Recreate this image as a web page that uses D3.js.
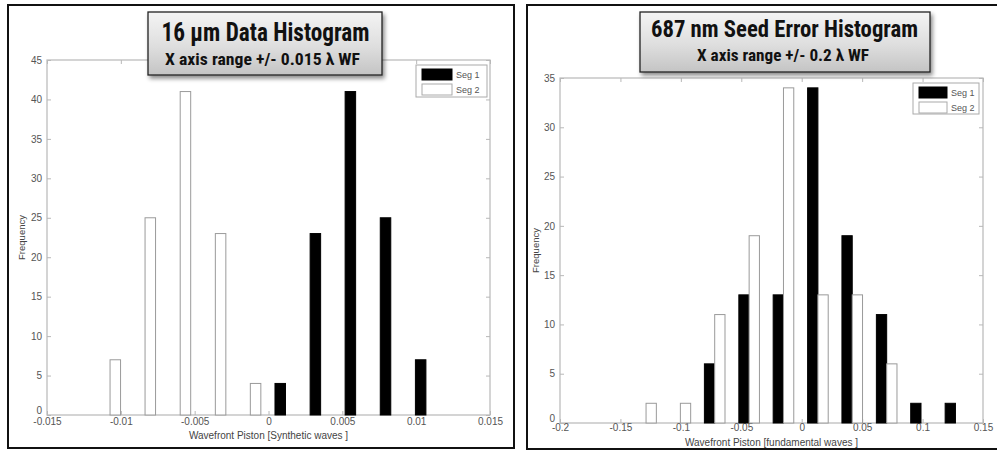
<!DOCTYPE html>
<html><head><meta charset="utf-8">
<script src="https://cdn.jsdelivr.net/npm/d3@7"></script>
<style>
body{margin:0;background:#fff;}
svg{display:block;}
</style></head>
<body>
<svg id="c" width="997" height="450"></svg>
<script>
// ---- Data ----
const leftBins = [-0.01073, -0.00836, -0.00598, -0.00360, -0.00123, 0.00115, 0.00353, 0.00590, 0.00828, 0.01066];
const leftSeg1 = [0, 0, 0, 0, 0, 4, 23, 41, 25, 7];
const leftSeg2 = [7, 25, 41, 23, 4, 0, 0, 0, 0, 0];
const leftXTicks = [-0.015, -0.01, -0.005, 0, 0.005, 0.01, 0.015];
const leftXTickLabels = ["-0.015", "-0.01", "-0.005", "0", "0.005", "0.01", "0.015"];
const leftYTicks = [0, 5, 10, 15, 20, 25, 30, 35, 40, 45];

const rightBins = [-0.1288, -0.1004, -0.0720, -0.0435, -0.0151, 0.0134, 0.0418, 0.0703, 0.0987, 0.1272];
const rightSeg1 = [0, 0, 6, 13, 13, 34, 19, 11, 2, 2];
const rightSeg2 = [2, 2, 11, 19, 34, 13, 13, 6, 0, 0];
const rightXTicks = [-0.2, -0.15, -0.1, -0.05, 0, 0.05, 0.1, 0.15];
const rightXTickLabels = ["-0.2", "-0.15", "-0.1", "-0.05", "0", "0.05", "0.1", "0.15"];
const rightYTicks = [0, 5, 10, 15, 20, 25, 30, 35];

const seriesNames = ["Seg 1", "Seg 2"];

const svg = d3.select("#c");
const defs = svg.append("defs");
const grad = defs.append("linearGradient").attr("id","tg").attr("x1","0").attr("y1","0").attr("x2","0").attr("y2","1");
grad.append("stop").attr("offset","0%").attr("stop-color","#f4f4f4");
grad.append("stop").attr("offset","55%").attr("stop-color","#dedede");
grad.append("stop").attr("offset","100%").attr("stop-color","#c4c4c4");
const filt = defs.append("filter").attr("id","sh").attr("x","-10%").attr("y","-10%").attr("width","125%").attr("height","135%");
filt.append("feDropShadow").attr("dx",2).attr("dy",3).attr("stdDeviation",2).attr("flood-color","#000").attr("flood-opacity",0.45);

const narrow = "'Liberation Sans Narrow','Arial Narrow','Roboto Condensed','Liberation Sans',Arial,sans-serif";
const tickFont = "'Liberation Sans',Arial,sans-serif";

function panel(cfg){
  const g = svg.append("g");
  g.append("rect").attr("x",cfg.border[0]).attr("y",cfg.border[1]).attr("width",cfg.border[2]).attr("height",cfg.border[3])
    .attr("fill","#fff").attr("stroke","#111").attr("stroke-width",2);

  const x = d3.scaleLinear().domain(cfg.xDomain).range([cfg.plot.l, cfg.plot.r]);
  const y = d3.scaleLinear().domain(cfg.yDomain).range([cfg.plot.b, cfg.plot.t]);

  const gridColor = "#b8b8b8";
  g.append("rect").attr("x",cfg.plot.l).attr("y",cfg.plot.t).attr("width",cfg.plot.r-cfg.plot.l).attr("height",cfg.plot.b-cfg.plot.t)
    .attr("fill","none").attr("stroke",gridColor).attr("stroke-width",1.2);

  const xb = g.append("g").attr("transform",`translate(0,${cfg.plot.b})`)
    .call(d3.axisBottom(x).tickValues(cfg.xTicks).tickSize(-4).tickPadding(cfg.xPad).tickFormat((d,i)=>cfg.xLabels[i]));
  const xt = g.append("g").attr("transform",`translate(0,${cfg.plot.t})`)
    .call(d3.axisTop(x).tickValues(cfg.xTicks).tickSize(-4).tickFormat(""));
  const yl = g.append("g").attr("transform",`translate(${cfg.plot.l},0)`)
    .call(d3.axisLeft(y).tickValues(cfg.yTicks).tickSize(-4).tickPadding(5));
  const yr = g.append("g").attr("transform",`translate(${cfg.plot.r},0)`)
    .call(d3.axisRight(y).tickValues(cfg.yTicks).tickSize(-4).tickFormat(""));
  [xb,xt,yl,yr].forEach(a=>{
    a.select(".domain").remove();
    a.selectAll(".tick line").attr("stroke",gridColor);
    a.selectAll("text").attr("fill","#555").style("font-family",tickFont).style("font-size","10px");
  });
  yl.selectAll(".tick text").attr("dy","0.32em");
  yl.selectAll(".tick text").filter(d=>d===0).attr("dy","-0.15em");

  const spacing = cfg.bins[1]-cfg.bins[0];
  const bw = spacing*0.3, off = spacing*0.15;
  const bars = g.append("g");
  const mk = (vals, dx, fill, stroke) => {
    bars.selectAll(null).data(cfg.bins.map((c,i)=>({c, v: vals[i]})).filter(d=>d.v>0)).join("rect")
      .attr("x", d=>x(d.c+dx-bw/2)).attr("width", d=>x(d.c+dx+bw/2)-x(d.c+dx-bw/2))
      .attr("y", d=>y(d.v)).attr("height", d=>y(0)-y(d.v))
      .attr("fill", fill).attr("stroke", stroke).attr("stroke-width",1);
  };
  mk(cfg.seg1, -off, "#000", "#000");
  mk(cfg.seg2, off, "#fff", "#9a9a9a");

  g.append("text").attr("x",(cfg.plot.l+cfg.plot.r)/2).attr("y",cfg.xTitleY).attr("text-anchor","middle")
    .attr("fill","#444").style("font-family",tickFont).style("font-size","10px").text(cfg.xTitle);
  g.append("text").attr("transform",`translate(${cfg.yTitleX},${(cfg.plot.t+cfg.plot.b)/2}) rotate(-90)`).attr("text-anchor","middle")
    .attr("fill","#444").style("font-family",tickFont).style("font-size","9.5px").text("Frequency");

  const L = cfg.legend;
  g.append("rect").attr("x",L.x).attr("y",L.y).attr("width",L.w).attr("height",L.h).attr("fill","#fff").attr("stroke","#aaa").attr("stroke-width",1);
  seriesNames.forEach((n,i)=>{
    const yy = L.y + 4 + i*L.row;
    g.append("rect").attr("x",L.x+6).attr("y",yy).attr("width",L.sw).attr("height",L.row-4)
      .attr("fill", i===0?"#000":"#fff").attr("stroke", i===0?"#000":"#aaa");
    g.append("text").attr("x",L.x+L.sw+10).attr("y",yy+(L.row-4)/2).attr("dy","0.35em")
      .attr("fill","#555").style("font-family",tickFont).style("font-size","9px").text(n);
  });

  const T = cfg.title;
  g.append("rect").attr("x",T.x).attr("y",T.y).attr("width",T.w).attr("height",T.h)
    .attr("fill","url(#tg)").attr("stroke","#222").attr("stroke-width",1.3).attr("filter","url(#sh)");
  g.append("text").attr("x",T.cx).attr("y",T.ty1).attr("text-anchor","middle").attr("fill","#111")
    .style("font-family",narrow).style("font-weight","bold").style("font-size",T.fs1+"px")
    .attr("textLength",T.tw1).attr("lengthAdjust","spacingAndGlyphs").text(T.t1);
  g.append("text").attr("x",T.cx2).attr("y",T.ty2).attr("text-anchor","middle").attr("fill","#111")
    .style("font-family",narrow).style("font-weight","bold").style("font-size",T.fs2+"px")
    .attr("textLength",T.tw2).attr("lengthAdjust","spacingAndGlyphs").text(T.t2);
}

panel({
  border:[8,5,506,443],
  plot:{l:47,r:490,t:60,b:415}, xPad:3,
  xDomain:[-0.015,0.015], yDomain:[0,45],
  xTicks:leftXTicks, xLabels:leftXTickLabels, yTicks:leftYTicks,
  bins:leftBins, seg1:leftSeg1, seg2:leftSeg2,
  xTitle:"Wavefront Piston [Synthetic waves ]", xTitleY:439, yTitleX:25,
  legend:{x:416,y:65,w:71,h:32,sw:30,row:15},
  title:{x:148,y:12,w:234,h:63,cx:265.5,ty1:41,fs1:25,tw1:208,t1:"16 µm Data Histogram",
         cx2:262.5,ty2:65,fs2:17,tw2:195,t2:"X axis range +/- 0.015 λ WF"}
});

panel({
  border:[527,5,480,444],
  plot:{l:560,r:983,t:78,b:423}, xPad:1,
  xDomain:[-0.2,0.15], yDomain:[0,35],
  xTicks:rightXTicks, xLabels:rightXTickLabels, yTicks:rightYTicks,
  bins:rightBins, seg1:rightSeg1, seg2:rightSeg2,
  xTitle:"Wavefront Piston [fundamental waves ]", xTitleY:446, yTitleX:539,
  legend:{x:913,y:83,w:66,h:31,sw:28,row:15},
  title:{x:640,y:12,w:290,h:60,cx:784.5,ty1:37,fs1:23,tw1:267,t1:"687 nm Seed Error Histogram",
         cx2:783,ty2:61,fs2:16,tw2:172,t2:"X axis range +/- 0.2 λ WF"}
});
</script>
</body></html>
